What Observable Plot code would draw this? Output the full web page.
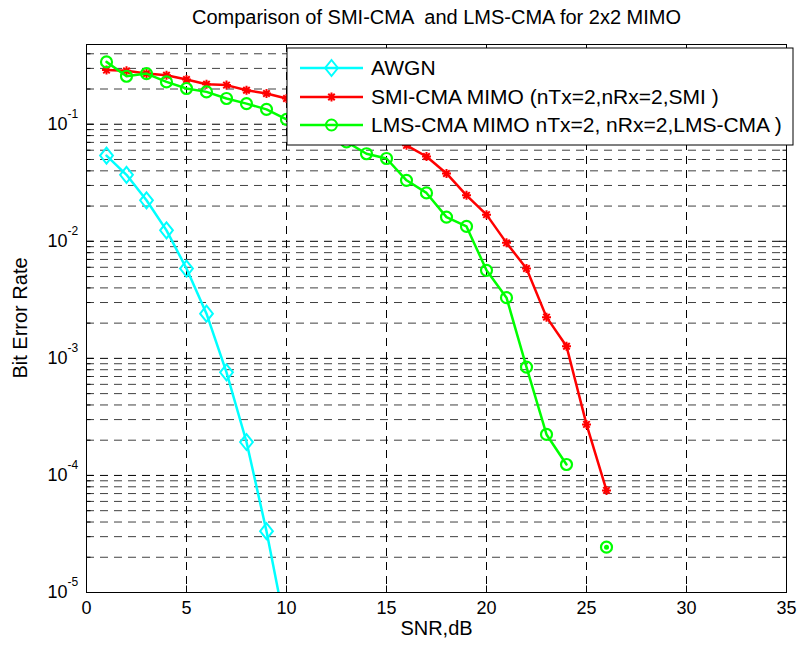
<!DOCTYPE html>
<html>
<head>
<meta charset="utf-8">
<script src="https://cdn.jsdelivr.net/npm/d3@7"></script>
<script src="https://cdn.jsdelivr.net/npm/@observablehq/plot@0.6"></script>
<style>
  html, body { margin: 0; padding: 0; background: #fff; }
  #chart svg { display: block; }
</style>
</head>
<body>
<div id="chart"></div>
<script>
// ---- data ----
const titleText = "Comparison of SMI-CMA  and LMS-CMA for 2x2 MIMO";
const xLabel = "SNR,dB";
const yLabel = "Bit Error Rate";

const xTicks = [0, 5, 10, 15, 20, 25, 30, 35];
const yTicks = [1e-5, 1e-4, 1e-3, 1e-2, 1e-1];
const yTickExp = ["-5", "-4", "-3", "-2", "-1"];

const seriesNames = ["AWGN", "SMI-CMA MIMO (nTx=2,nRx=2,SMI )", "LMS-CMA MIMO nTx=2, nRx=2,LMS-CMA )"];
const seriesColors = ["#00FFFF", "#FF0000", "#00FF00"];

const awgnSNR = [1, 2, 3, 4, 5, 6, 7, 8, 9, 10];
const awgnBER = [0.054, 0.037, 0.0224, 0.0124, 0.00585, 0.00241, 7.6e-4, 1.93e-4, 3.34e-5, 4.5e-6];

const smiSNR = [1,2,3,4,5,6,7,8,9,10,11,12,13,14,15,16,17,18,19,20,21,22,23,24,25,26];
const smiBER = [0.290, 0.286, 0.271, 0.262, 0.241, 0.220, 0.216, 0.195, 0.183, 0.166,
                0.150, 0.135, 0.118, 0.100, 0.083, 0.066, 0.053, 0.038, 0.0247, 0.0169,
                0.0097, 0.00585, 0.00225, 0.00127, 2.73e-4, 7.45e-5];

const lmsSNR = [1,2,3,4,5,6,7,8,9,10,11,12,13,14,15,16,17,18,19,20,21,22,23,24,25,26];
const lmsBER = [0.341, 0.257, 0.271, 0.230, 0.202, 0.189, 0.166, 0.150, 0.134, 0.110,
                0.095, 0.082, 0.0706, 0.056, 0.051, 0.0332, 0.0259, 0.0161, 0.0134, 0.00565,
                0.0033, 8.43e-4, 2.24e-4, 1.24e-4, null, 2.44e-5];

// ---- tables ----
const awgn = awgnSNR.map((x, i) => ({x, y: awgnBER[i]}));
const smi = smiSNR.map((x, i) => ({x, y: smiBER[i]}));
const lms = lmsSNR.map((x, i) => ({x, y: lmsBER[i]}));
const lmsIsolated = lms.filter((d, i) => d.y != null && (lms[i - 1] == null || lms[i - 1].y == null) && (lms[i + 1] == null || lms[i + 1].y == null));

// minor log grid values
const yMinor = [];
for (let e = -5; e <= -1; e++) for (let m = 2; m <= 9; m++) {
  const v = m * Math.pow(10, e);
  if (v < 0.48) yMinor.push(v);
}

// ---- symbols ----
const diamondSym = {draw(ctx, size) {
  const r = Math.sqrt(size / Math.PI), w = r * 0.8;
  ctx.moveTo(0, -r); ctx.lineTo(w, 0); ctx.lineTo(0, r); ctx.lineTo(-w, 0); ctx.closePath();
}};
const asteriskSym = {draw(ctx, size) {
  const r = Math.sqrt(size / Math.PI), k = r * 0.72;
  ctx.moveTo(-r, 0); ctx.lineTo(r, 0);
  ctx.moveTo(0, -r); ctx.lineTo(0, r);
  ctx.moveTo(-k, -k); ctx.lineTo(k, k);
  ctx.moveTo(-k, k); ctx.lineTo(k, -k);
}};
const tickUp = {draw(ctx, size) { const r = Math.sqrt(size / Math.PI); ctx.moveTo(0, 0); ctx.lineTo(0, -r); }};
const tickDown = {draw(ctx, size) { const r = Math.sqrt(size / Math.PI); ctx.moveTo(0, 0); ctx.lineTo(0, r); }};
const tickRight = {draw(ctx, size) { const r = Math.sqrt(size / Math.PI); ctx.moveTo(0, 0); ctx.lineTo(r, 0); }};
const tickLeft = {draw(ctx, size) { const r = Math.sqrt(size / Math.PI); ctx.moveTo(0, 0); ctx.lineTo(-r, 0); }};

const dash = "8,6";
const FONT = "'Liberation Sans', Arial, Helvetica, sans-serif";

const chart = Plot.plot({
  width: 801,
  height: 649,
  marginLeft: 86,
  marginRight: 15,
  marginTop: 44,
  marginBottom: 57,
  style: {fontFamily: FONT, fontSize: "18px", background: "white", color: "black"},
  x: {domain: [0, 35]},
  y: {type: "log", domain: [1e-5, 0.48]},
  marks: [
    // grid
    Plot.ruleY(yMinor, {stroke: "#000", strokeOpacity: 0.75, strokeDasharray: dash}),
    Plot.ruleY(yTicks.filter(d => d > 1e-5), {stroke: "#000", strokeDasharray: dash}),
    Plot.ruleX(xTicks.filter(d => d > 0 && d < 35), {stroke: "#000", strokeDasharray: dash}),
    // inward ticks
    Plot.dot(xTicks, {x: d => d, frameAnchor: "bottom", symbol: tickUp, r: 7, stroke: "#000", fill: "none", strokeWidth: 1}),
    Plot.dot(xTicks, {x: d => d, frameAnchor: "top", symbol: tickDown, r: 7, stroke: "#000", fill: "none", strokeWidth: 1}),
    Plot.dot(yTicks, {y: d => d, frameAnchor: "left", symbol: tickRight, r: 7, stroke: "#000", fill: "none", strokeWidth: 1}),
    Plot.dot(yTicks, {y: d => d, frameAnchor: "right", symbol: tickLeft, r: 7, stroke: "#000", fill: "none", strokeWidth: 1}),
    Plot.dot(yMinor, {y: d => d, frameAnchor: "left", symbol: tickRight, r: 4, stroke: "#000", fill: "none", strokeWidth: 1}),
    Plot.dot(yMinor, {y: d => d, frameAnchor: "right", symbol: tickLeft, r: 4, stroke: "#000", fill: "none", strokeWidth: 1}),
    // series
    Plot.line(awgn, {x: "x", y: "y", stroke: seriesColors[0], strokeWidth: 2.5, clip: true}),
    Plot.dot(awgn, {x: "x", y: "y", symbol: diamondSym, r: 8, stroke: seriesColors[0], fill: "none", strokeWidth: 2, clip: true}),
    Plot.line(smi, {x: "x", y: "y", stroke: seriesColors[1], strokeWidth: 2.5, clip: true}),
    Plot.dot(smi, {x: "x", y: "y", symbol: asteriskSym, r: 4.5, stroke: seriesColors[1], fill: "none", strokeWidth: 2, clip: true}),
    Plot.line(lms, {x: "x", y: "y", stroke: seriesColors[2], strokeWidth: 2.5, clip: true}),
    Plot.dot(lms, {x: "x", y: "y", symbol: "circle", r: 5.5, stroke: seriesColors[2], fill: "none", strokeWidth: 2.2, clip: true}),
    Plot.dot(lmsIsolated, {x: "x", y: "y", r: 2.5, fill: seriesColors[2], clip: true}),
    // frame
    Plot.frame({stroke: "#000", strokeWidth: 1}),
    // axes text
    Plot.axisX(xTicks, {tickSize: 0, tickPadding: 9, fontSize: 18, label: null}),
    Plot.axisY({ticks: [], label: null, tickSize: 0}),
    Plot.text(yTicks, {y: d => d, text: () => "10", frameAnchor: "left", textAnchor: "end", dx: -19, fontSize: 18, lineAnchor: "middle"}),
    Plot.text(yTicks, {y: d => d, text: (d, i) => yTickExp[i], frameAnchor: "left", textAnchor: "start", dx: -19, dy: -10, fontSize: 12, lineAnchor: "middle"}),
    Plot.text([xLabel], {text: d => d, frameAnchor: "bottom", dy: 36, fontSize: 20, lineAnchor: "middle"}),
    Plot.text([titleText], {text: d => d, frameAnchor: "top", dy: -27, fontSize: 20, lineAnchor: "middle"})
  ]
});

document.getElementById("chart").appendChild(chart);

const svg = d3.select(chart);

// ---- y axis label ----
svg.append("text")
  .attr("transform", "translate(20,318) rotate(-90)")
  .attr("text-anchor", "middle").attr("dy", "0.35em")
  .attr("font-family", FONT).attr("font-size", 20).attr("fill", "black")
  .text(yLabel);

// ---- legend (drawn on top of the plot area) ----
const leg = svg.append("g").attr("font-family", FONT).attr("font-size", 21).attr("text-anchor", "start");
const box = {x: 287, y: 48, w: 506, h: 97};
leg.append("rect").attr("x", box.x).attr("y", box.y).attr("width", box.w).attr("height", box.h)
  .attr("fill", "white").attr("stroke", "black").attr("stroke-width", 1);
const legSyms = [
  {type: diamondSym, size: Math.PI * 64},
  {type: asteriskSym, size: Math.PI * 4.5 * 4.5},
  {type: d3.symbolCircle, size: Math.PI * 5.5 * 5.5}
];
const rowY = [68, 97, 125];
seriesNames.forEach((name, i) => {
  const y = rowY[i];
  leg.append("line").attr("x1", 300).attr("x2", 363).attr("y1", y).attr("y2", y)
    .attr("stroke", seriesColors[i]).attr("stroke-width", 2.5);
  leg.append("path").attr("transform", `translate(331.5,${y})`)
    .attr("d", d3.symbol(legSyms[i].type, legSyms[i].size)())
    .attr("fill", "none").attr("stroke", seriesColors[i]).attr("stroke-width", 2);
  leg.append("text").attr("x", 371).attr("y", y).attr("dy", "0.35em")
    .attr("text-anchor", "start").attr("fill", "black").text(name);
});
</script>
</body>
</html>
